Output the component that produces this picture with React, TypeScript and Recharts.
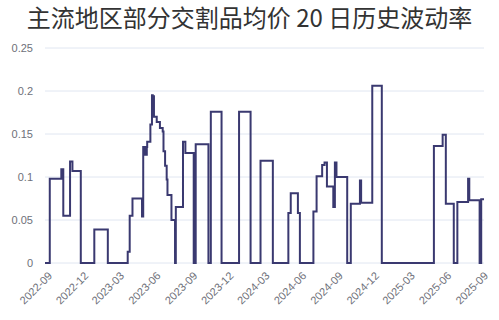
import { CartesianGrid, Line, LineChart, XAxis, YAxis } from "recharts";

// change points of the 20-day volatility (value holds until next date)
const dates = [
  "2022-08-26", "2022-09-07", "2022-10-06", "2022-10-11", "2022-10-28", "2022-11-03",
  "2022-11-24", "2022-12-28", "2023-01-31", "2023-03-22", "2023-03-27", "2023-04-03",
  "2023-04-27", "2023-04-30", "2023-05-05", "2023-05-09", "2023-05-10", "2023-05-18",
  "2023-05-22", "2023-05-24", "2023-05-25", "2023-05-27", "2023-06-03", "2023-06-11",
  "2023-06-18", "2023-06-20", "2023-06-24", "2023-06-28", "2023-06-30", "2023-07-10",
  "2023-07-19", "2023-07-21", "2023-08-08", "2023-08-14", "2023-09-04", "2023-09-09",
  "2023-10-11", "2023-10-17", "2023-11-13", "2023-12-27", "2024-01-25", "2024-02-19",
  "2024-03-21", "2024-04-29", "2024-05-05", "2024-05-23", "2024-05-28", "2024-07-01",
  "2024-07-09", "2024-07-23", "2024-07-29", "2024-08-04", "2024-08-20", "2024-08-24",
  "2024-08-28", "2024-09-24", "2024-10-03", "2024-10-26", "2024-10-29", "2024-11-26",
  "2024-12-20", "2025-04-30", "2025-05-22", "2025-05-30", "2025-06-19", "2025-06-28",
  "2025-07-25", "2025-07-28", "2025-08-23", "2025-08-27", "2025-09-03",
];

const vols = [
  0, 0.098, 0.109, 0.055, 0.118, 0.107,
  0, 0.039, 0, 0.013, 0.055, 0.075,
  0.054, 0.135, 0.126, 0.135, 0.141, 0.161,
  0.195, 0.183, 0.194, 0.17, 0.164, 0.157,
  0.153, 0.13, 0.113, 0.097, 0.079, 0.05,
  0, 0.065, 0.141, 0.128, 0, 0.138,
  0, 0.176, 0, 0.176, 0, 0.119,
  0, 0.058, 0.081, 0.058, 0, 0.06,
  0.101, 0.114, 0.117, 0.089, 0.065, 0.117,
  0.1, 0, 0.069, 0.096, 0.07, 0.206,
  0, 0.136, 0.149, 0.069, 0, 0.071,
  0.098, 0.073, 0, 0.074, 0.074,
];

const tickMonths = [
  "2022-09", "2022-12", "2023-03", "2023-06", "2023-09", "2023-12", "2024-03",
  "2024-06", "2024-09", "2024-12", "2025-03", "2025-06", "2025-09",
];

const yTicks = [0, 0.05, 0.1, 0.15, 0.2, 0.25];

const data = dates.map((d, i) => ({ t: Date.parse(d), v: vols[i] }));
const xTicks = tickMonths.map((m) => Date.parse(m + "-01"));

const fmtMonth = (t: number) => {
  const d = new Date(t);
  return `${d.getUTCFullYear()}-${String(d.getUTCMonth() + 1).padStart(2, "0")}`;
};

export default function App() {
  return (
    <div style={{ position: "absolute", left: 0, top: 0, width: 499, height: 320, background: "#fff" }}>
      <div
        style={{
          position: "absolute",
          top: 5,
          left: 0,
          width: 499,
          textAlign: "center",
          fontFamily: "'Noto Sans CJK SC', sans-serif",
          fontSize: 24,
          lineHeight: "24px",
          color: "#333",
          whiteSpace: "nowrap",
        }}
      >
        主流地区部分交割品均价 20 日历史波动率
      </div>
      <LineChart
        width={499}
        height={320}
        data={data}
        margin={{ top: 48, right: 15, left: 0, bottom: 0 }}
        style={{ fontFamily: "'Liberation Sans', Arial, sans-serif" }}
      >
        <CartesianGrid vertical={false} stroke="#e0e6f1" />
        <XAxis
          type="number"
          dataKey="t"
          domain={[data[0].t, data[data.length - 1].t]}
          ticks={xTicks}
          interval={0}
          tickFormatter={fmtMonth}
          angle={-45}
          textAnchor="end"
          axisLine={false}
          tickLine={false}
          height={57}
          tick={{ fontSize: 11, fill: "#6e7079" }}
          allowDataOverflow
        />
        <YAxis
          domain={[0, 0.25]}
          ticks={yTicks}
          width={45}
          axisLine={false}
          tickLine={false}
          tickMargin={6}
          tick={{ fontSize: 11, fill: "#6e7079" }}
        />
        <Line
          type="stepAfter"
          dataKey="v"
          stroke="#3a3970"
          strokeWidth={2}
          dot={false}
          isAnimationActive={false}
        />
      </LineChart>
    </div>
  );
}
